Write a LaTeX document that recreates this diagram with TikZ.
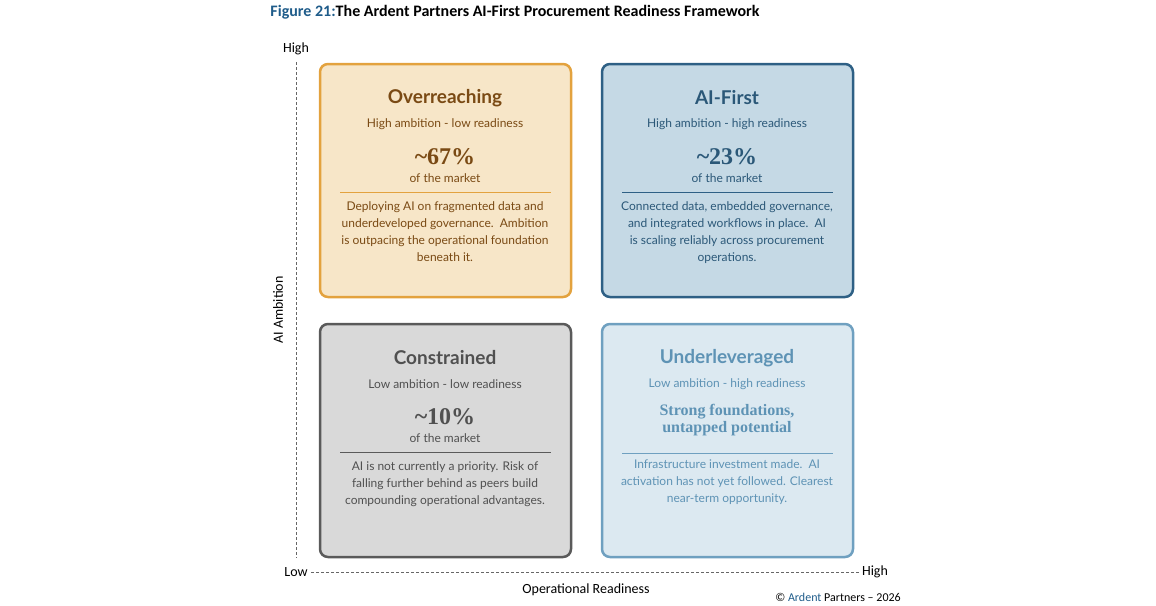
\documentclass[tikz,border=0pt]{standalone}
\usepackage{fontspec}
\setmainfont{Lato}
\newfontfamily\slab{Liberation Serif}
\newfontfamily\calfont{Carlito}
\definecolor{orBd}{HTML}{E3A23E}\definecolor{orFl}{HTML}{F7E6C8}\definecolor{orTx}{HTML}{7A4A14}
\definecolor{bkBd}{HTML}{2E6085}\definecolor{bkFl}{HTML}{C5D9E5}\definecolor{bkTx}{HTML}{2B5878}
\definecolor{grBd}{HTML}{5A5A5A}\definecolor{grFl}{HTML}{D9D9D9}\definecolor{grTx}{HTML}{505050}
\definecolor{lbBd}{HTML}{6FA0C0}\definecolor{lbFl}{HTML}{DCE9F1}\definecolor{lbTx}{HTML}{5E93B5}
\definecolor{figBl}{HTML}{1F5C8A}
\tikzset{
  quad/.style={draw=#1Bd, fill=#1Fl, line width=2.5pt, rounded corners=8pt},
  qtitle/.style={text=#1Tx, font=\bfseries\fontsize{19}{22}\selectfont},
  qsub/.style={text=#1Tx, font=\fontsize{12}{14}\selectfont},
  qpct/.style={text=#1Tx, font=\slab\bfseries\fontsize{24}{26}\selectfont},
  qbody/.style={text=#1Tx, font=\fontsize{12}{17}\selectfont, align=center, anchor=north},
  axlab/.style={font=\calfont\fontsize{14}{16}\selectfont},
  axline/.style={gray!80!black, dash pattern=on 3pt off 2pt}
}
\begin{document}
\begin{tikzpicture}[x=1pt,y=-1pt]
\useasboundingbox (0,0) rectangle (1156,605);
\node (title) at (515,12) {\calfont\bfseries\fontsize{16}{18}\selectfont\textcolor{figBl}{Figure 21:}The Ardent Partners AI-First Procurement Readiness Framework};
% axes
\node [axlab] (yhigh) at (296,49) {High};
\node [axlab] (low) at (296,572) {Low};
\node [axlab] (xhigh) at (875,572) {High};
\draw [axline] (296,62) -- (296,558);
\draw [axline] (low.east) -- (xhigh.west);
\node [axlab, rotate=90] (yax) at (278,310) {AI Ambition};
\node [axlab] (xax) at (586,590) {Operational Readiness};
\node [font=\calfont\fontsize{12}{14}\selectfont] (foot) at (838,597) {\textcopyright\ \textcolor{figBl}{Ardent} Partners \textendash\ 2026};
% top left
\draw [quad=or] (320,64) rectangle (571,297);
\node [qtitle=or] (ovT) at (445,98) {Overreaching};
\node [qsub=or] (ovS) at (445,124) {High ambition - low readiness};
\node [qpct=or] (ovP) at (445,157) {\textasciitilde67\%};
\node [qsub=or] (ovM) at (445,178) {of the market};
\draw [orBd, line width=1pt] (340,192) -- (551,192);
\node [qbody=or] (ovB) at (445,198) {Deploying AI on fragmented data and\\underdeveloped governance.\ \ Ambition\\is outpacing the operational foundation\\beneath it.};
% top right
\draw [quad=bk] (602,64) rectangle (853,297);
\node [qtitle=bk] (afT) at (727,98) {AI-First};
\node [qsub=bk] (afS) at (727,124) {High ambition - high readiness};
\node [qpct=bk] (afP) at (727,157) {\textasciitilde23\%};
\node [qsub=bk] (afM) at (727,178) {of the market};
\draw [bkBd, line width=1pt] (622,192) -- (833,192);
\node [qbody=bk] (afB) at (727,198) {Connected data, embedded governance,\\and integrated workflows in place.\ \ AI\\is scaling reliably across procurement\\operations.};
% bottom left
\draw [quad=gr] (320,324) rectangle (571,557);
\node [qtitle=gr] (coT) at (445,358) {Constrained};
\node [qsub=gr] (coS) at (445,384) {Low ambition - low readiness};
\node [qpct=gr] (coP) at (445,417) {\textasciitilde10\%};
\node [qsub=gr] (coM) at (445,438) {of the market};
\draw [grBd, line width=1pt] (340,452) -- (551,452);
\node [qbody=gr] (coB) at (445,458) {AI is not currently a priority. Risk of\\falling further behind as peers build\\compounding operational advantages.};
% bottom right
\draw [quad=lb] (602,324) rectangle (853,557);
\node [qtitle=lb] (unT) at (727,358) {Underleveraged};
\node [qsub=lb] (unS) at (727,384) {Low ambition - high readiness};
\node [text=lbTx, font=\slab\bfseries\fontsize{16}{17}\selectfont, align=center] (unP) at (727,420) {Strong foundations,\\untapped potential};
\draw [lbBd, line width=1pt] (622,453) -- (833,453);
\node [qbody=lb] (unB) at (727,456) {Infrastructure investment made.\ \ AI\\activation has not yet followed. Clearest\\near-term opportunity.};
\end{tikzpicture}
\end{document}
